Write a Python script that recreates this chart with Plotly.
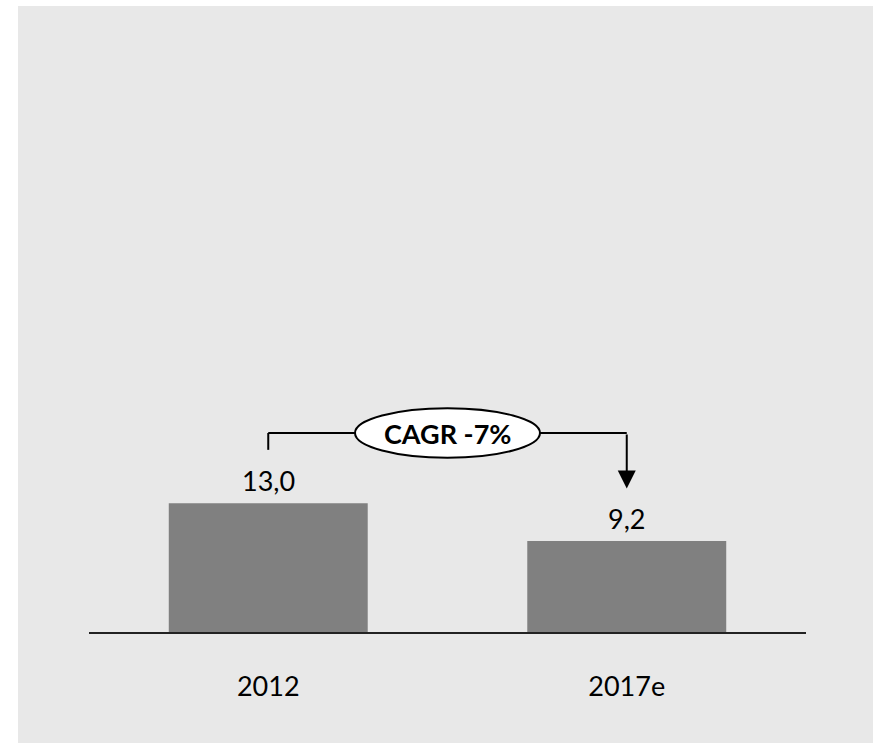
import plotly.graph_objects as go

categories = ["2012", "2017e"]
values = [13.0, 9.2]
value_labels = ["13,0", "9,2"]
cagr_label = "CAGR -7%"

FONT = "Lato, Carlito, Calibri, sans-serif"
W, H = 873, 743
ml, mr, mt, mb = 89, 67, 20, 111
ppu = 9.9  # pixels per unit
ymax = (H - mt - mb) / ppu

fig = go.Figure()
fig.add_trace(go.Bar(
    x=list(range(len(categories))), y=values,
    marker=dict(color="#808080", line=dict(width=0)),
    showlegend=False, hoverinfo="skip",
))
# value labels above bars
for i, (v, t) in enumerate(zip(values, value_labels)):
    fig.add_annotation(x=i, y=v, text=t, showarrow=False, yanchor="bottom", yshift=4,
                       font=dict(family=FONT, size=27, color="#000000"))

top = max(values)
bracket_y = top + 7.1
left_bottom = top + 5.4
tip_y = top + 1.5

# gray background panel
fig.add_shape(type="rect", xref="paper", yref="paper",
              x0=(18 - ml) / (W - ml - mr), x1=1.3,
              y0=-0.5, y1=(H - mb - 6) / (H - mt - mb),
              fillcolor="#e8e8e8", line=dict(width=0), layer="below")

line = dict(color="#000000", width=2)
fig.add_shape(type="line", xref="x", yref="y", x0=0, x1=0, y0=left_bottom, y1=bracket_y, line=line)
fig.add_shape(type="line", xref="x", yref="y", x0=0, x1=1, y0=bracket_y, y1=bracket_y, line=line)
fig.add_shape(type="circle", xref="x", yref="y", x0=0.242, x1=0.758,
              y0=bracket_y - 2.5, y1=bracket_y + 2.5,
              fillcolor="#ffffff", line=line)
fig.add_annotation(x=1, y=tip_y, ax=1, ay=bracket_y, xref="x", yref="y",
                   axref="x", ayref="y", showarrow=True, arrowhead=2,
                   arrowsize=1.8, arrowwidth=2, arrowcolor="#000000", text="")
fig.add_annotation(x=0.5, y=bracket_y, xref="x", yref="y", text="<b>" + cagr_label + "</b>",
                   showarrow=False, font=dict(family=FONT, size=27, color="#000000"))

fig.update_layout(
    width=W, height=H,
    margin=dict(l=ml, r=mr, t=mt, b=mb),
    paper_bgcolor="#ffffff", plot_bgcolor="rgba(0,0,0,0)",
    showlegend=False, bargap=0.445,
    xaxis=dict(showline=True, linecolor="#222222", linewidth=2, showgrid=False,
               tickmode="array", tickvals=list(range(len(categories))), ticktext=categories,
               ticks="outside", ticklen=30, tickcolor="rgba(0,0,0,0)",
               tickfont=dict(family=FONT, size=27, color="#000000"),
               range=[-0.5, 1.5], fixedrange=True, zeroline=False),
    yaxis=dict(visible=False, range=[0, ymax], showgrid=False, zeroline=False, fixedrange=True),
)

fig.write_html("out.html", config={"displayModeBar": False},
               post_script="document.body.style.margin='0';document.body.style.overflow='hidden';")
